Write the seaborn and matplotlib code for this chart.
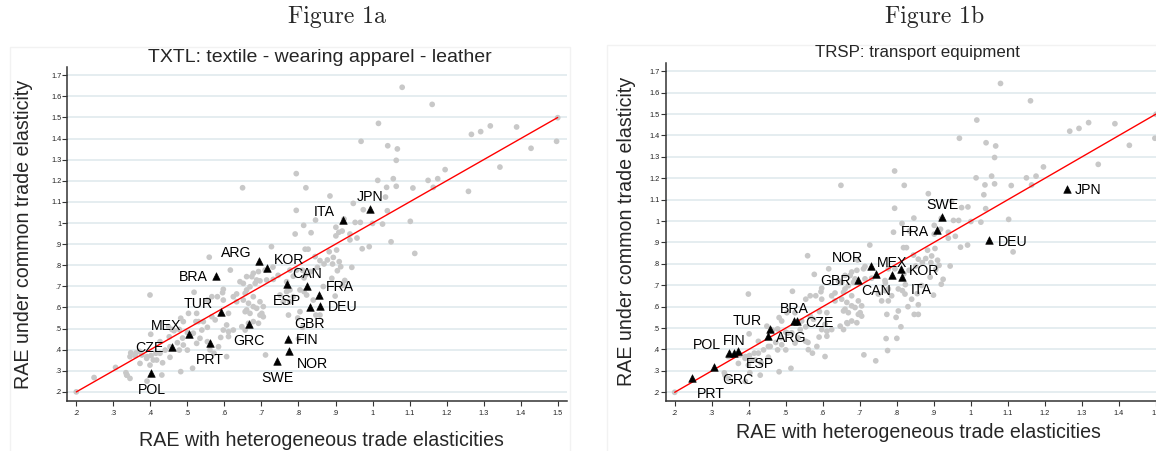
import matplotlib
matplotlib.use("Agg")
import matplotlib.pyplot as plt
import pandas as pd
import seaborn as sns
from matplotlib.lines import Line2D

# ---------------- data ----------------
# background country-sector pairs (all sectors), shown grey in both panels
other_x = [1.080, 1.161, 1.016, 1.500, 1.267, 1.292, 1.318, 1.389, 1.497, 1.428,
           0.969, 1.041, 1.067, 1.064, 1.344, 1.196, 1.014, 1.056, 1.150, 1.176,
           1.164, 1.064, 1.038, 1.109, 0.820, 0.649, 0.794, 0.885, 1.035, 0.948,
           0.794, 0.975, 1.040, 0.846, 0.953, 0.967, 1.000, 1.027, 1.102, 0.814,
           0.834, 0.791, 0.901, 0.918, 0.901, 0.939, 0.958, 0.939, 0.972, 0.991,
           1.114, 0.727, 0.818, 0.826, 0.559,
           0.883, 0.903, 0.894, 0.878, 0.910, 0.892, 0.914, 0.905, 0.944, 0.845,
           0.858, 0.869, 0.851, 0.833, 0.819, 0.795, 0.777, 0.890, 0.867, 0.804,
           0.815, 0.822, 0.768, 0.899, 0.847, 0.773, 0.925, 0.920, 0.768, 0.777,
           0.786, 0.750, 0.759, 0.777, 0.840, 0.804, 0.858, 0.798, 0.811, 0.800,
           0.711,
           0.678, 0.660, 0.687, 0.651, 0.669, 0.642, 0.674, 0.692, 0.710, 0.683,
           0.714, 0.732, 0.660, 0.696, 0.687, 0.701, 0.705, 0.669, 0.665, 0.651,
           0.665, 0.660, 0.678, 0.616, 0.399, 0.518, 0.597, 0.595, 0.581, 0.566,
           0.554, 0.633, 0.624, 0.597, 0.633, 0.656, 0.678, 0.678, 0.705, 0.656,
           0.696, 0.692, 0.647, 0.624, 0.656, 0.611, 0.611, 0.503, 0.525, 0.566,
           0.575, 0.543, 0.554, 0.597, 0.606, 0.590, 0.611, 0.561, 0.572, 0.584,
           0.606, 0.514, 0.482, 0.431, 0.336, 0.345, 0.482, 0.489, 0.449, 0.464,
           0.478, 0.500, 0.487, 0.473, 0.489, 0.478, 0.500, 0.453, 0.426, 0.408,
           0.390, 0.377, 0.345, 0.372, 0.399, 0.417, 0.440, 0.453, 0.426, 0.433,
           0.534, 0.554, 0.525, 0.516, 0.539, 0.200, 0.337, 0.334, 0.359, 0.391,
           0.402, 0.415, 0.401, 0.391]
other_y = [1.643, 1.562, 1.472, 1.499, 1.420, 1.433, 1.460, 1.455, 1.387, 1.354,
           1.387, 1.366, 1.351, 1.297, 1.265, 1.253, 1.202, 1.210, 1.202, 1.210,
           1.169, 1.174, 1.169, 1.166, 1.167, 1.167, 1.234, 1.128, 1.123, 1.093,
           1.060, 1.063, 1.058, 1.014, 1.003, 1.003, 0.998, 0.995, 1.008, 0.989,
           0.954, 0.948, 0.980, 0.962, 0.939, 0.948, 0.929, 0.920, 0.878, 0.888,
           0.856, 0.888, 0.876, 0.876, 0.838,
           0.864, 0.872, 0.837, 0.825, 0.817, 0.806, 0.793, 0.774, 0.790, 0.841,
           0.822, 0.806, 0.790, 0.770, 0.754, 0.777, 0.777, 0.738, 0.699, 0.683,
           0.675, 0.659, 0.675, 0.654, 0.564, 0.564, 0.728, 0.705, 0.722, 0.683,
           0.651, 0.659, 0.627, 0.627, 0.635, 0.580, 0.564, 0.550, 0.506, 0.452,
           0.375,
           0.762, 0.746, 0.730, 0.714, 0.698, 0.722, 0.746, 0.770, 0.777, 0.714,
           0.730, 0.733, 0.683, 0.627, 0.596, 0.572, 0.556, 0.572, 0.525, 0.635,
           0.620, 0.588, 0.533, 0.777, 0.659, 0.672, 0.686, 0.670, 0.651, 0.651,
           0.635, 0.664, 0.651, 0.635, 0.627, 0.667, 0.651, 0.604, 0.604, 0.580,
           0.564, 0.525, 0.509, 0.493, 0.493, 0.485, 0.572, 0.572, 0.572, 0.556,
           0.541, 0.533, 0.506, 0.493, 0.517, 0.458, 0.462, 0.399, 0.383, 0.414,
           0.367, 0.312, 0.296, 0.280, 0.280, 0.264, 0.549, 0.533, 0.509, 0.490,
           0.496, 0.481, 0.455, 0.433, 0.422, 0.398, 0.398, 0.364, 0.383, 0.351,
           0.359, 0.375, 0.367, 0.335, 0.327, 0.351, 0.398, 0.414, 0.438, 0.338,
           0.454, 0.438, 0.430, 0.478, 0.493, 0.200, 0.279, 0.291, 0.372, 0.367,
           0.372, 0.383, 0.473, 0.251]

# TXTL: textile - wearing apparel - leather (highlighted in Figure 1a)
txtl_codes = ["JPN", "ITA", "ARG", "KOR", "BRA", "CAN", "ESP", "FRA", "DEU", "GBR",
              "TUR", "GRC", "MEX", "PRT", "CZE", "FIN", "NOR", "SWE", "POL"]
txtl_x = [0.992, 0.920, 0.694, 0.714, 0.577, 0.823, 0.769, 0.855, 0.858, 0.830,
          0.591, 0.667, 0.505, 0.560, 0.458, 0.771, 0.775, 0.743, 0.403]
txtl_y = [1.066, 1.013, 0.818, 0.788, 0.751, 0.703, 0.711, 0.661, 0.609, 0.600,
          0.577, 0.521, 0.476, 0.433, 0.414, 0.451, 0.395, 0.347, 0.291]

# TRSP: transport equipment (highlighted in Figure 1b)
trsp_codes = ["JPN", "DEU", "SWE", "FRA", "NOR", "MEX", "KOR", "ITA", "GBR", "CAN",
              "BRA", "CZE", "TUR", "ARG", "POL", "FIN", "ESP", "GRC", "PRT"]
trsp_x = [1.259, 1.050, 0.923, 0.909, 0.731, 0.786, 0.811, 0.815, 0.696, 0.745,
          0.523, 0.530, 0.458, 0.451, 0.347, 0.361, 0.371, 0.306, 0.248]
trsp_y = [1.150, 0.911, 1.019, 0.956, 0.791, 0.748, 0.776, 0.740, 0.726, 0.752,
          0.533, 0.533, 0.496, 0.461, 0.385, 0.384, 0.392, 0.316, 0.268]

# 45-degree reference line
diag = [0.2, 1.5]

xtick_vals = [0.2, 0.3, 0.4, 0.5, 0.6, 0.7, 0.8, 0.9, 1.0, 1.1, 1.2, 1.3, 1.4, 1.5]
xtick_labels = [".2", ".3", ".4", ".5", ".6", ".7", ".8", ".9", "1", "1.1", "1.2", "1.3", "1.4", "1.5"]
ytick_vals = [0.2, 0.3, 0.4, 0.5, 0.6, 0.7, 0.8, 0.9, 1.0, 1.1, 1.2, 1.3, 1.4, 1.5, 1.6, 1.7]
ytick_labels = [".2", ".3", ".4", ".5", ".6", ".7", ".8", ".9", "1", "1.1", "1.2", "1.3", "1.4", "1.5", "1.6", "1.7"]

# ---------------- style ----------------
# marker-label clock positions (Stata style)
txtl_clock = {"JPN": 12, "ITA": 10, "ARG": 10, "KOR": 2, "BRA": 9, "CAN": 12, "ESP": 6,
              "FRA": 2, "DEU": 3, "GBR": 6, "TUR": 10, "GRC": 6, "MEX": 10, "PRT": 6,
              "CZE": 9, "FIN": 3, "NOR": 4, "SWE": 6, "POL": 6}
trsp_clock = {"JPN": 3, "DEU": 3, "SWE": 12, "FRA": 9, "NOR": 10, "MEX": 12, "KOR": 3,
              "ITA": 4, "GBR": 9, "CAN": 6, "BRA": 12, "CZE": 3, "TUR": 10, "ARG": 3,
              "POL": 10, "FIN": 12, "ESP": 4, "GRC": 4, "PRT": 5}
clock_style = {12: ("center", 0, 12), 6: ("center", 0, -17), 9: ("right", -8, -1.5),
               3: ("left", 8, -1.5), 10: ("right", -8, 8), 2: ("left", 7, 8),
               4: ("left", 8, -13), 5: ("left", 4, -16)}

W, H = 1156, 451
sns.set_theme(style="white")
plt.rcParams["font.family"] = ["Liberation Sans", "DejaVu Sans"]

fig = plt.figure(figsize=(W / 100, H / 100), dpi=100)
fig.patch.set_facecolor("white")


def fx(px):
    return px / W


def fy(py):
    return 1 - py / H


ax_a = fig.add_axes([fx(67.3), fy(400.7), fx(566.7 - 67.3), (400.7 - 66.7) / H])
ax_b = fig.add_axes([fx(665.7), fy(400.7), fx(1165 - 665.7), (400.7 - 62.7) / H])

GRID = "#e3ecef"
GREY = "#c8c8c8"


def draw(ax, bg_x, bg_y, hl_codes, hl_x, hl_y, clock, ylim):
    ax.set_xlim(0.1757, 1.5243)
    ax.set_ylim(*ylim)
    for v in ytick_vals:
        ax.axhline(v, color=GRID, lw=1.3, zorder=0)
    bg = pd.DataFrame({"x": other_x + bg_x, "y": other_y + bg_y})
    sns.scatterplot(data=bg, x="x", y="y", color=GREY, s=17, edgecolor="none",
                    linewidth=0, ax=ax, zorder=2, legend=False)
    ax.plot(diag, diag, color="#ff0000", lw=1.0, zorder=3)
    hl = pd.DataFrame({"x": hl_x, "y": hl_y})
    sns.scatterplot(data=hl, x="x", y="y", marker="^", color="black", s=30,
                    edgecolor="black", linewidth=0.4, ax=ax, zorder=4, legend=False)
    for c, x, y in zip(hl_codes, hl_x, hl_y):
        ha, dx, dy = clock_style[clock[c]]
        ax.annotate(c, (x, y), xytext=(dx, dy), textcoords="offset pixels",
                    ha=ha, va="center", fontsize=10.2, color="black", zorder=5)
    ax.set_xticks(xtick_vals)
    ax.set_xticklabels(xtick_labels)
    ax.set_yticks(ytick_vals)
    ax.set_yticklabels(ytick_labels)
    ax.tick_params(axis="x", direction="out", length=3.3, width=0.8, color="#333333",
                   pad=3.5, labelsize=5.3, labelcolor="#222222", bottom=True)
    ax.tick_params(axis="y", direction="out", length=3.3, width=0.8, color="#333333",
                   pad=1.0, labelsize=5.3, labelcolor="#222222", left=True)
    ax.set_xlabel("")
    ax.set_ylabel("")
    ax.grid(False)
    for s in ["top", "right"]:
        ax.spines[s].set_visible(False)
    for s in ["left", "bottom"]:
        ax.spines[s].set_color("#333333")
        ax.spines[s].set_linewidth(1.1)
    ax.set_facecolor("none")


draw(ax_a, trsp_x, trsp_y, txtl_codes, txtl_x, txtl_y, txtl_clock, (0.1583, 1.7405))
draw(ax_b, txtl_x, txtl_y, trsp_codes, trsp_x, trsp_y, trsp_clock, (0.1607, 1.740))

# faint graph-region borders
border = "#f2f2f2"
fig.add_artist(Line2D([fx(10), fx(10), fx(570), fx(570)], [fy(451), fy(47), fy(47), fy(451)],
                      color=border, lw=1.0, transform=fig.transFigure))
fig.add_artist(Line2D([fx(607), fx(607), fx(1156)], [fy(451), fy(45), fy(45)],
                      color=border, lw=1.0, transform=fig.transFigure))

# figure headings
fig.text(fx(337), fy(17), "Figure 1a", fontfamily="cmr10", fontsize=17, ha="center", va="center")
fig.text(fx(935), fy(17), "Figure 1b", fontfamily="cmr10", fontsize=17, ha="center", va="center")
fig.text(fx(320), fy(57), "TXTL: textile - wearing apparel - leather", fontsize=14,
         ha="center", va="center")
fig.text(fx(917), fy(53), "TRSP: transport equipment", fontsize=12.2, ha="center", va="center")

# axis titles
fig.text(fx(321), fy(441), "RAE with heterogeneous trade elasticities", fontsize=14.1,
         ha="center", va="center")
fig.text(fx(918), fy(433), "RAE with heterogeneous trade elasticities", fontsize=14.1,
         ha="center", va="center")
fig.text(fx(24), fy(234), "RAE under common trade elasticity", fontsize=14.1,
         ha="center", va="center", rotation=90)
fig.text(fx(626), fy(231), "RAE under common trade elasticity", fontsize=14.1,
         ha="center", va="center", rotation=90)

fig.savefig("out.png", dpi=100)
